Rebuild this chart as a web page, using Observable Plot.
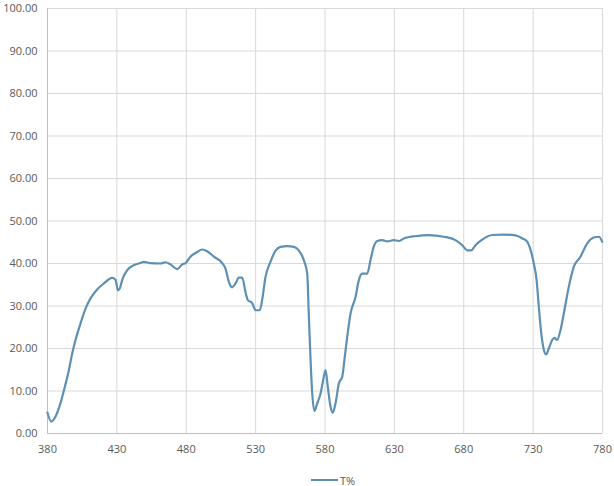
<!DOCTYPE html>
<html><head><meta charset="utf-8">
<script src="https://cdn.jsdelivr.net/npm/d3@7"></script>
<script src="https://cdn.jsdelivr.net/npm/@observablehq/plot@0.6"></script>
<style>
body{margin:0;background:#fff;font-family:"Open Sans",sans-serif;}
#legend{height:20px;padding-top:4px;display:flex;justify-content:center;align-items:center;font-size:11px;color:#595959;padding-left:52px;}
#legend .sw{display:inline-block;width:27px;height:0;border-top:2.2px solid #5e8fb4;margin-right:2px;}
</style></head>
<body><div id="chart"></div><div id="legend"><span class="sw"></span><span>T%</span></div>
<script>
const wavelength = [380,382.7,385.8,389.4,392.5,395.4,397.8,400.2,403.8,407.4,411,415.8,420.6,426.6,429,430.7,432.1,433.8,437.4,442.2,447,449.4,454.2,461.4,465,468.6,473.5,477.1,479.5,483,487.9,491.5,495.1,499.9,505.9,508.3,510.7,513.1,515.5,517.9,520.3,522.7,524.4,527.5,529.9,533,534.7,537.1,540.7,544.3,547.9,552.7,557.5,561.1,564.7,567.2,568.3,569.5,570.8,572.4,574.4,576.8,578.7,580.4,582,584,585.6,587.6,590,592.4,594,596,598.4,602,604.4,606.8,610.4,612.8,615.1,617.6,621.2,624.8,629.6,633.2,636.8,641.6,643.9,654.8,665.6,674,678.9,682.5,685.4,688.5,693.3,700.5,708.9,717.3,722.2,725.8,728.6,730.5,732.5,734.1,735.9,737.8,739.4,741.3,743.7,745.4,747.3,749.7,752.1,755.7,759.3,764.1,768.9,773.7,777.4,779.8];
const transmittance = [4.9,2.8,4.0,7.2,11,14.9,18.8,22,25.9,29.4,31.8,33.9,35.3,36.6,36.2,33.7,34.1,36.1,38.4,39.6,40.1,40.4,40.1,40.0,40.3,39.8,38.7,39.8,40.1,41.6,42.7,43.3,42.9,41.6,40.1,38.8,35.7,34.4,35.3,36.7,36.7,33.3,31.4,30.7,29.0,29.0,31.4,36.8,40.4,43.0,43.9,44.1,43.9,43.1,40.8,37.6,28.2,18.0,9.4,5.3,7.1,9.4,12.6,14.9,11,6.3,4.9,7.1,11.8,13.3,17.3,22.7,28.2,32.1,36.1,37.6,37.6,40.8,43.9,45.3,45.5,45.2,45.5,45.3,45.9,46.3,46.4,46.7,46.3,45.5,44.3,43.1,43.1,44.3,45.6,46.7,46.8,46.6,45.9,45.1,42.7,40.0,36.1,29.8,23.5,19.6,18.6,20,22,22.5,22,24.3,28.2,34.5,39.2,41.6,44.7,46.1,46.3,45.1];
const xTicks = [380,430,480,530,580,630,680,730,780];
const yTicks = [0,10,20,30,40,50,60,70,80,90,100];

const data = wavelength.map((w,i)=>({w, t: transmittance[i]}));

const chart = Plot.plot({
  width: 614, height: 466,
  marginLeft: 47, marginRight: 12, marginTop: 8, marginBottom: 33,
  style: {fontFamily: '"Open Sans", sans-serif', fontSize: "11px", color: "#595959", background: "#fff"},
  x: {domain: [380, 780], ticks: xTicks, tickSize: 0, tickPadding: 12, label: null},
  y: {domain: [0, 100], ticks: yTicks, tickSize: 0, tickPadding: 10, label: null, tickFormat: d => d.toFixed(2)},
  marks: [
    Plot.ruleX(xTicks, {stroke: "#d9d9d9", strokeWidth: 1}),
    Plot.ruleY(yTicks, {stroke: "#d9d9d9", strokeWidth: 1}),
    Plot.ruleX([380], {stroke: "#bfbfbf"}),
    Plot.ruleY([0], {stroke: "#bfbfbf"}),
    Plot.axisX({ticks: xTicks, tickSize: 0, tickPadding: 12, fill: "#595959"}),
    Plot.axisY({ticks: yTicks, tickSize: 0, tickPadding: 10, tickFormat: d => d.toFixed(2), fill: "#595959"}),
    Plot.line(data, {x: "w", y: "t", stroke: "#5e8fb4", strokeWidth: 2.2, curve: "monotone-x"})
  ]
});
document.getElementById("chart").appendChild(chart);
</script></body></html>
